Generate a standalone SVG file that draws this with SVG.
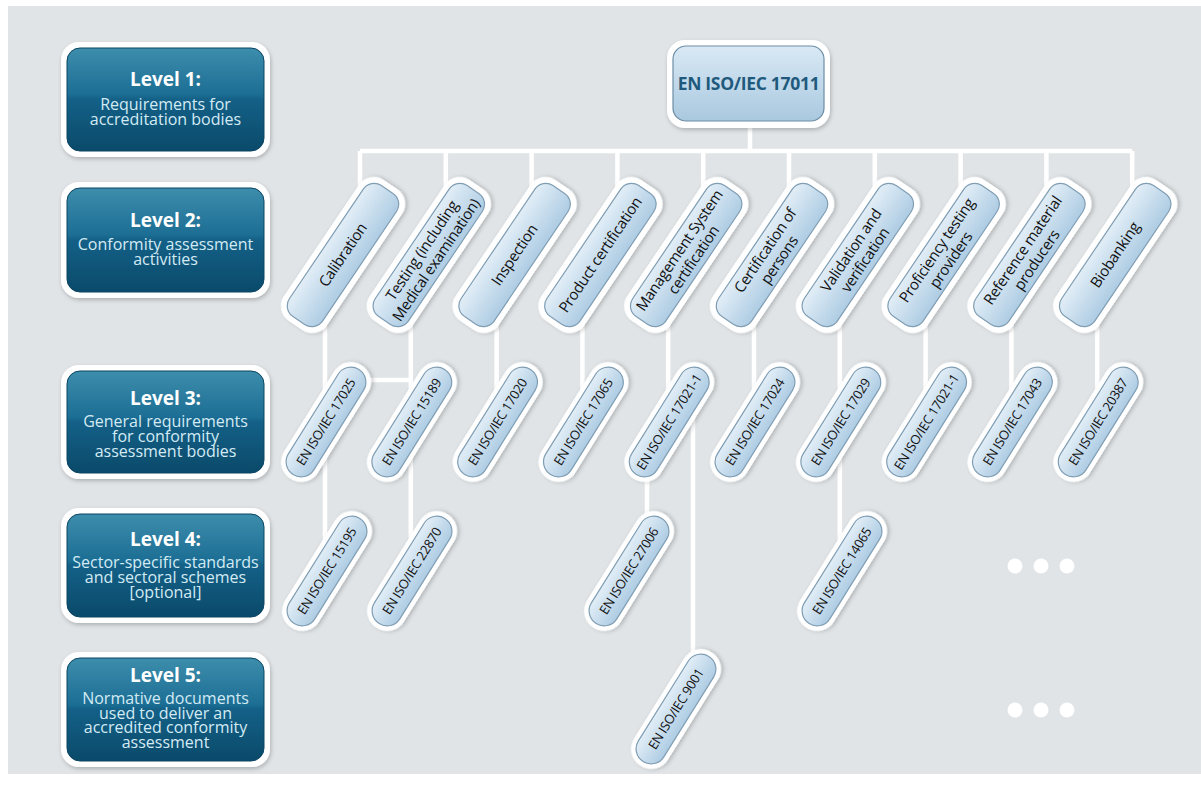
<svg xmlns="http://www.w3.org/2000/svg" width="1201" height="801" viewBox="0 0 1201 801">
<defs>
<linearGradient id="teal" x1="0" y1="0" x2="0" y2="1">
<stop offset="0" stop-color="#3d8dac"/>
<stop offset="0.45" stop-color="#1c6e94"/>
<stop offset="0.5" stop-color="#146087"/>
<stop offset="1" stop-color="#0a4a6a"/>
</linearGradient>
<linearGradient id="blue" x1="0" y1="0" x2="0" y2="1">
<stop offset="0" stop-color="#e2eef7"/>
<stop offset="1" stop-color="#aecce3"/>
</linearGradient>
<linearGradient id="topblue" x1="0" y1="0" x2="0" y2="1">
<stop offset="0" stop-color="#d9e9f5"/>
<stop offset="1" stop-color="#a9c8df"/>
</linearGradient>
<filter id="sh" x="-20%" y="-20%" width="140%" height="140%">
<feDropShadow dx="1" dy="2" stdDeviation="2" flood-color="#000" flood-opacity="0.22"/>
</filter>
<style>
.outer{fill:#ffffff;filter:url(#sh)}
.lvl{fill:url(#teal);stroke:#0b4462;stroke-width:1}
.pin{fill:url(#blue);stroke:#7f9db3;stroke-width:1.2}
.lt{font-family:"Open Sans",sans-serif;font-size:19px;font-weight:bold;fill:#ffffff;text-anchor:middle}
.ls{font-family:"Open Sans",sans-serif;font-size:16px;fill:#d3ebf4;text-anchor:middle}
.p2{font-family:"Open Sans",sans-serif;font-size:15px;letter-spacing:-0.3px;fill:#111111;text-anchor:middle}
.p3{font-family:"Open Sans",sans-serif;font-size:13px;letter-spacing:-0.4px;fill:#111111;text-anchor:middle}
.con{fill:none;stroke:#ffffff;stroke-width:4.5}
.dot{fill:#ffffff}
</style>
</defs>
<rect x="0" y="0" width="1201" height="801" fill="#ffffff"/>
<rect x="8" y="6" width="1193" height="768" fill="#e0e4e6"/>

<g id="connectors">
<path class="con" d="M750 100 V151 M360 151 H1132.2"/>
<path class="con" d="M360 151 V255 M445.8 151 V255 M531.6 151 V255 M617.4 151 V255 M703.2 151 V255 M789 151 V255 M874.8 151 V255 M960.6 151 V255 M1046.4 151 V255 M1132.2 151 V255"/>
<path class="con" d="M325 255 V422 M410.8 255 V422 M496.6 255 V422 M582.4 255 V422 M668.2 255 V422 M754 255 V422 M839.8 255 V422 M925.6 255 V422 M1011.4 255 V422 M1097.2 255 V422"/>
<path class="con" d="M340 380 H410.8"/>
<path class="con" d="M325 422 V571 M410.8 422 V571 M647 430 V571 M693 415 V709 M839.8 422 V571"/>
</g>

<g id="level1">
<rect class="outer" x="61" y="42" width="209" height="115" rx="18"/>
<rect class="lvl" x="67" y="48" width="197" height="103" rx="13"/>
<text class="lt" x="165.5" y="86">Level 1:</text>
<text class="ls" x="165.5" y="110">Requirements for</text>
<text class="ls" x="165.5" y="125">accreditation bodies</text>
</g>
<g id="level2">
<rect class="outer" x="61" y="182" width="209" height="116" rx="18"/>
<rect class="lvl" x="67" y="188" width="197" height="104" rx="13"/>
<text class="lt" x="165.5" y="227">Level 2:</text>
<text class="ls" x="165.5" y="250">Conformity assessment</text>
<text class="ls" x="165.5" y="265">activities</text>
</g>
<g id="level3">
<rect class="outer" x="61" y="365" width="209" height="114" rx="18"/>
<rect class="lvl" x="67" y="371" width="197" height="102" rx="13"/>
<text class="lt" x="165.5" y="405">Level 3:</text>
<text class="ls" x="165.5" y="427">General requirements</text>
<text class="ls" x="165.5" y="442">for conformity</text>
<text class="ls" x="165.5" y="457">assessment bodies</text>
</g>
<g id="level4">
<rect class="outer" x="61" y="508" width="209" height="115" rx="18"/>
<rect class="lvl" x="67" y="514" width="197" height="103" rx="13"/>
<text class="lt" x="165.5" y="546">Level 4:</text>
<text class="ls" x="165.5" y="568">Sector-specific standards</text>
<text class="ls" x="165.5" y="583">and sectoral schemes</text>
<text class="ls" x="165.5" y="598">[optional]</text>
</g>
<g id="level5">
<rect class="outer" x="61" y="652" width="209" height="115" rx="18"/>
<rect class="lvl" x="67" y="658" width="197" height="103" rx="13"/>
<text class="lt" x="165.5" y="682">Level 5:</text>
<text class="ls" x="165.5" y="704">Normative documents</text>
<text class="ls" x="165.5" y="719">used to deliver an</text>
<text class="ls" x="165.5" y="733">accredited conformity</text>
<text class="ls" x="165.5" y="748">assessment</text>
</g>

<g id="n17011">
<rect class="outer" x="667" y="40" width="163" height="88" rx="18"/>
<rect x="673" y="46" width="151" height="75" rx="13" fill="url(#topblue)" stroke="#6d8da5" stroke-width="1.2"/>
<text x="748.5" y="90" font-family="Open Sans, sans-serif" font-size="17.5px" font-weight="bold" letter-spacing="-0.3px" fill="#1f5a7d" text-anchor="middle">EN ISO/IEC 17011</text>
</g>

<g id="calibration" transform="translate(343,255) rotate(-56)">
<rect class="outer" x="-85" y="-26" width="170" height="52" rx="18"/>
<rect class="pin" x="-79" y="-20" width="158" height="40" rx="13"/>
<text class="p2" y="5">Calibration</text>
</g>
<g id="testing" transform="translate(428.8,255) rotate(-56)">
<rect class="outer" x="-85" y="-26" width="170" height="52" rx="18"/>
<rect class="pin" x="-79" y="-20" width="158" height="40" rx="13"/>
<text class="p2" y="-3">Testing (including</text>
<text class="p2" y="14">Medical examination)</text>
</g>
<g id="inspection" transform="translate(514.6,255) rotate(-56)">
<rect class="outer" x="-85" y="-26" width="170" height="52" rx="18"/>
<rect class="pin" x="-79" y="-20" width="158" height="40" rx="13"/>
<text class="p2" y="5">Inspection</text>
</g>
<g id="product" transform="translate(600.4,255) rotate(-56)">
<rect class="outer" x="-85" y="-26" width="170" height="52" rx="18"/>
<rect class="pin" x="-79" y="-20" width="158" height="40" rx="13"/>
<text class="p2" y="5">Product certification</text>
</g>
<g id="mgmt" transform="translate(686.2,255) rotate(-56)">
<rect class="outer" x="-85" y="-26" width="170" height="52" rx="18"/>
<rect class="pin" x="-79" y="-20" width="158" height="40" rx="13"/>
<text class="p2" y="-3">Management System</text>
<text class="p2" y="14">certification</text>
</g>
<g id="persons" transform="translate(772,255) rotate(-56)">
<rect class="outer" x="-85" y="-26" width="170" height="52" rx="18"/>
<rect class="pin" x="-79" y="-20" width="158" height="40" rx="13"/>
<text class="p2" y="-3">Certification of</text>
<text class="p2" y="14">persons</text>
</g>
<g id="validation" transform="translate(857.8,255) rotate(-56)">
<rect class="outer" x="-85" y="-26" width="170" height="52" rx="18"/>
<rect class="pin" x="-79" y="-20" width="158" height="40" rx="13"/>
<text class="p2" y="-3">Validation and</text>
<text class="p2" y="14">verification</text>
</g>
<g id="proficiency" transform="translate(943.6,255) rotate(-56)">
<rect class="outer" x="-85" y="-26" width="170" height="52" rx="18"/>
<rect class="pin" x="-79" y="-20" width="158" height="40" rx="13"/>
<text class="p2" y="-3">Proficiency testing</text>
<text class="p2" y="14">providers</text>
</g>
<g id="reference" transform="translate(1029.4,255) rotate(-56)">
<rect class="outer" x="-85" y="-26" width="170" height="52" rx="18"/>
<rect class="pin" x="-79" y="-20" width="158" height="40" rx="13"/>
<text class="p2" y="-3">Reference material</text>
<text class="p2" y="14">producers</text>
</g>
<g id="biobanking" transform="translate(1115.2,255) rotate(-56)">
<rect class="outer" x="-85" y="-26" width="170" height="52" rx="18"/>
<rect class="pin" x="-79" y="-20" width="158" height="40" rx="13"/>
<text class="p2" y="5">Biobanking</text>
</g>

<g id="n17025" transform="translate(326,422) rotate(-58)">
<rect class="outer" x="-67" y="-20" width="134" height="40" rx="20"/>
<rect class="pin" x="-62" y="-15" width="124" height="30" rx="15"/>
<text class="p3" y="4.5">EN ISO/IEC 17025</text>
</g>
<g id="n15189" transform="translate(411.8,422) rotate(-58)">
<rect class="outer" x="-67" y="-20" width="134" height="40" rx="20"/>
<rect class="pin" x="-62" y="-15" width="124" height="30" rx="15"/>
<text class="p3" y="4.5">EN ISO/IEC 15189</text>
</g>
<g id="n17020" transform="translate(497.6,422) rotate(-58)">
<rect class="outer" x="-67" y="-20" width="134" height="40" rx="20"/>
<rect class="pin" x="-62" y="-15" width="124" height="30" rx="15"/>
<text class="p3" y="4.5">EN ISO/IEC 17020</text>
</g>
<g id="n17065" transform="translate(583.4,422) rotate(-58)">
<rect class="outer" x="-67" y="-20" width="134" height="40" rx="20"/>
<rect class="pin" x="-62" y="-15" width="124" height="30" rx="15"/>
<text class="p3" y="4.5">EN ISO/IEC 17065</text>
</g>
<g id="n17021a" transform="translate(669.2,422) rotate(-58)">
<rect class="outer" x="-67" y="-20" width="134" height="40" rx="20"/>
<rect class="pin" x="-62" y="-15" width="124" height="30" rx="15"/>
<text class="p3" y="4.5">EN ISO/IEC 17021-1</text>
</g>
<g id="n17024" transform="translate(755,422) rotate(-58)">
<rect class="outer" x="-67" y="-20" width="134" height="40" rx="20"/>
<rect class="pin" x="-62" y="-15" width="124" height="30" rx="15"/>
<text class="p3" y="4.5">EN ISO/IEC 17024</text>
</g>
<g id="n17029" transform="translate(840.8,422) rotate(-58)">
<rect class="outer" x="-67" y="-20" width="134" height="40" rx="20"/>
<rect class="pin" x="-62" y="-15" width="124" height="30" rx="15"/>
<text class="p3" y="4.5">EN ISO/IEC 17029</text>
</g>
<g id="n17021b" transform="translate(926.6,422) rotate(-58)">
<rect class="outer" x="-67" y="-20" width="134" height="40" rx="20"/>
<rect class="pin" x="-62" y="-15" width="124" height="30" rx="15"/>
<text class="p3" y="4.5">EN ISO/IEC 17021-1</text>
</g>
<g id="n17043" transform="translate(1012.4,422) rotate(-58)">
<rect class="outer" x="-67" y="-20" width="134" height="40" rx="20"/>
<rect class="pin" x="-62" y="-15" width="124" height="30" rx="15"/>
<text class="p3" y="4.5">EN ISO/IEC 17043</text>
</g>
<g id="n20387" transform="translate(1098.2,422) rotate(-58)">
<rect class="outer" x="-67" y="-20" width="134" height="40" rx="20"/>
<rect class="pin" x="-62" y="-15" width="124" height="30" rx="15"/>
<text class="p3" y="4.5">EN ISO/IEC 20387</text>
</g>

<g id="n15195" transform="translate(327,571) rotate(-58)">
<rect class="outer" x="-67" y="-20" width="134" height="40" rx="20"/>
<rect class="pin" x="-62" y="-15" width="124" height="30" rx="15"/>
<text class="p3" y="4.5">EN ISO/IEC 15195</text>
</g>
<g id="n22870" transform="translate(412,571) rotate(-58)">
<rect class="outer" x="-67" y="-20" width="134" height="40" rx="20"/>
<rect class="pin" x="-62" y="-15" width="124" height="30" rx="15"/>
<text class="p3" y="4.5">EN ISO/IEC 22870</text>
</g>
<g id="n27006" transform="translate(629,571) rotate(-58)">
<rect class="outer" x="-67" y="-20" width="134" height="40" rx="20"/>
<rect class="pin" x="-62" y="-15" width="124" height="30" rx="15"/>
<text class="p3" y="4.5">EN ISO/IEC 27006</text>
</g>
<g id="n14065" transform="translate(842,571) rotate(-58)">
<rect class="outer" x="-67" y="-20" width="134" height="40" rx="20"/>
<rect class="pin" x="-62" y="-15" width="124" height="30" rx="15"/>
<text class="p3" y="4.5">EN ISO/IEC 14065</text>
</g>
<g id="n9001" transform="translate(676,709) rotate(-58)">
<rect class="outer" x="-67" y="-20" width="134" height="40" rx="20"/>
<rect class="pin" x="-62" y="-15" width="124" height="30" rx="15"/>
<text class="p3" y="4.5">EN ISO/IEC 9001</text>
</g>

<g id="dots4">
<circle class="dot" cx="1015" cy="566" r="7.5"/>
<circle class="dot" cx="1041" cy="566" r="7.5"/>
<circle class="dot" cx="1067" cy="566" r="7.5"/>
</g>
<g id="dots5">
<circle class="dot" cx="1015" cy="710" r="7.5"/>
<circle class="dot" cx="1041" cy="710" r="7.5"/>
<circle class="dot" cx="1067" cy="710" r="7.5"/>
</g>
</svg>
